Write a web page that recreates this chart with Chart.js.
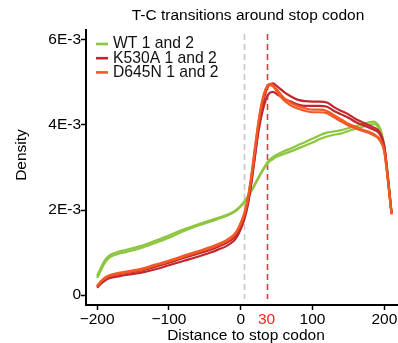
<!DOCTYPE html>
<html>
<head>
<meta charset="utf-8">
<script src="https://cdn.jsdelivr.net/npm/chart.js@4/dist/chart.umd.min.js"></script>
<style>
html,body{margin:0;padding:0;background:#fff;}
#wrap{width:398px;height:343px;position:relative;}
</style>
</head>
<body>
<div id="wrap"><canvas id="c" width="398" height="343"></canvas></div>
<script>
// ---- data (density values in units of 1E-3) ----
const positions = [-200,-195,-190,-185,-180,-170,-160,-140,-120,-100,-80,-60,-40,-30,-20,-10,-5,0,5,10,15,20,25,30,35,40,45,50,60,70,80,90,100,110,120,130,140,150,160,170,180,185,190,195,200,205,210];
const wt1 = [0.45,0.63,0.80,0.90,0.96,1.02,1.06,1.15,1.27,1.40,1.54,1.66,1.77,1.82,1.88,1.96,2.02,2.10,2.20,2.33,2.47,2.62,2.78,2.93,3.07,3.18,3.25,3.30,3.38,3.45,3.53,3.60,3.68,3.76,3.82,3.85,3.88,3.93,3.97,4.02,4.07,4.08,4.03,3.88,3.50,2.80,1.95];
const wt2 = [0.40,0.57,0.74,0.85,0.91,0.97,1.01,1.10,1.22,1.35,1.50,1.63,1.74,1.80,1.86,1.94,2.00,2.08,2.18,2.31,2.45,2.60,2.76,2.91,3.04,3.14,3.20,3.25,3.32,3.38,3.45,3.52,3.59,3.67,3.73,3.77,3.80,3.86,3.91,3.96,4.01,4.02,3.98,3.84,3.47,2.78,1.94];
const k530a1 = [0.17,0.26,0.33,0.38,0.41,0.44,0.47,0.52,0.60,0.70,0.80,0.90,1.01,1.08,1.15,1.27,1.38,1.55,1.78,2.12,2.65,3.30,3.95,4.45,4.78,4.95,4.98,4.92,4.78,4.67,4.59,4.56,4.55,4.55,4.53,4.42,4.33,4.25,4.14,4.06,3.98,3.94,3.90,3.78,3.50,2.75,1.92];
const k530a2 = [0.19,0.29,0.37,0.42,0.45,0.49,0.52,0.57,0.66,0.76,0.87,0.97,1.08,1.15,1.22,1.34,1.45,1.62,1.84,2.18,2.70,3.30,3.88,4.30,4.60,4.75,4.78,4.73,4.62,4.55,4.48,4.45,4.45,4.45,4.43,4.33,4.25,4.17,4.07,4.00,3.93,3.89,3.85,3.74,3.46,2.73,1.92];
const d645n1 = [0.22,0.32,0.40,0.45,0.48,0.52,0.55,0.61,0.71,0.81,0.92,1.03,1.14,1.21,1.29,1.41,1.52,1.70,1.93,2.30,2.85,3.50,4.12,4.58,4.86,4.96,4.94,4.84,4.64,4.52,4.44,4.39,4.36,4.36,4.33,4.23,4.13,4.03,3.96,3.89,3.83,3.79,3.73,3.63,3.38,2.70,1.90];
const d645n2 = [0.20,0.30,0.38,0.43,0.46,0.50,0.53,0.59,0.69,0.79,0.90,1.01,1.12,1.19,1.27,1.39,1.50,1.68,1.90,2.26,2.80,3.45,4.08,4.55,4.84,4.94,4.91,4.80,4.58,4.46,4.38,4.33,4.30,4.30,4.28,4.18,4.08,3.99,3.92,3.86,3.80,3.76,3.71,3.60,3.36,2.68,1.90];

const legendLabels = ['WT 1 and 2','K530A 1 and 2','D645N 1 and 2'];
const xTickValues = [-200,-100,0,100,200];
const yTickValues = [0,2,4,6];
const yTickLabels = ['0','2E-3','4E-3','6E-3'];
const grayLineX = 5;
const redLineX = 36;
const redLineLabel = '30';
const titleText = 'T-C transitions around stop codon';
const xTitle = 'Distance to stop codon';
const yTitle = 'Density';

// ---- styles ----
const GREEN = '#8DC63F', DARKRED = '#C1272D', ORANGE = '#F15A24', REDDASH = '#F0323C', GRAY = '#C8C8C8';
const FONT = '"Liberation Sans", Arial, Helvetica, sans-serif';
const colors = [GREEN, DARKRED, ORANGE];

function pts(arr){ return positions.map((x,i)=>({x:x,y:arr[i]})); }
function ds(arr, color, order){
  return {data:pts(arr), borderColor:color, borderWidth:2.2, pointRadius:0, fill:false,
          cubicInterpolationMode:'monotone', order:order};
}

const overlay = {
  id:'overlay',
  beforeDatasetsDraw(chart){
    const ctx = chart.ctx, xs = chart.scales.x, ca = chart.chartArea;
    ctx.save();
    ctx.lineWidth = 1.6;
    ctx.setLineDash([6,4]);
    [[grayLineX, GRAY],[redLineX, REDDASH]].forEach(([v,c])=>{
      const px = Math.round(xs.getPixelForValue(v))+0.5;
      ctx.strokeStyle = c;
      ctx.beginPath(); ctx.moveTo(px, ca.top+4); ctx.lineTo(px, ca.bottom-6); ctx.stroke();
    });
    ctx.restore();
  },
  afterDraw(chart){
    const ctx = chart.ctx, ca = chart.chartArea;
    ctx.save();
    ctx.fillStyle = '#000';
    ctx.font = '15.5px ' + FONT;
    ctx.textAlign = 'center'; ctx.textBaseline = 'middle';
    ctx.fillText(titleText, 248, 16);
    ctx.fillText(xTitle, 246, 336);
    ctx.save();
    ctx.translate(22, 155); ctx.rotate(-Math.PI/2);
    ctx.fillText(yTitle, 0, 0);
    ctx.restore();
    // legend
    ctx.font = '15.7px ' + FONT;
    ctx.textAlign = 'left';
    legendLabels.forEach((lab,i)=>{
      const y = 44 + i*14.2;
      ctx.strokeStyle = colors[i]; ctx.lineWidth = 2.6; ctx.setLineDash([]);
      ctx.beginPath(); ctx.moveTo(96, y); ctx.lineTo(108, y); ctx.stroke();
      ctx.fillStyle = '#111';
      ctx.fillText(lab, 113, y);
    });
    ctx.restore();
  }
};

new Chart(document.getElementById('c'), {
  type:'line',
  data:{datasets:[
    ds(d645n1, ORANGE, 1), ds(d645n2, ORANGE, 1),
    ds(k530a1, DARKRED, 2), ds(k530a2, DARKRED, 2),
    ds(wt1, GREEN, 3), ds(wt2, GREEN, 3)
  ]},
  options:{
    responsive:false, animation:false, devicePixelRatio:1,
    layout:{padding:{top:30,left:0,right:0,bottom:0}},
    plugins:{legend:{display:false}, title:{display:false}, tooltip:{enabled:false}},
    scales:{
      x:{type:'linear', min:-215.5, max:219,
        afterBuildTicks(s){ s.ticks = xTickValues.concat([redLineX]).sort((a,b)=>a-b).map(v=>({value:v})); },
        afterFit(s){ s.height = 38; },
        ticks:{font:{family:FONT,size:15.5}, padding:0, maxRotation:0, autoSkip:false,
          color:(c)=> c.tick && c.tick.value===redLineX ? '#FF2020' : '#000',
          callback:(v)=> v===redLineX ? redLineLabel : (v<0 ? '\u2212'+Math.abs(v) : String(v))},
        grid:{drawOnChartArea:false, drawTicks:true, tickLength:5, tickWidth:1.5,
          tickColor:(c)=> c.tick && c.tick.value===redLineX ? 'rgba(0,0,0,0)' : '#000'},
        border:{display:true, color:'#000', width:2}
      },
      y:{type:'linear', min:-0.235, max:6.235,
        afterBuildTicks(s){ s.ticks = yTickValues.map(v=>({value:v})); },
        afterFit(s){ s.width = 86; },
        ticks:{font:{family:FONT,size:15.5}, color:'#000', padding:0,
          callback:(v)=> yTickLabels[yTickValues.indexOf(v)]},
        grid:{drawOnChartArea:false, drawTicks:true, tickLength:5, tickWidth:1.5, tickColor:'#000'},
        border:{display:true, color:'#000', width:2}
      }
    }
  },
  plugins:[overlay]
});
</script>
</body>
</html>
